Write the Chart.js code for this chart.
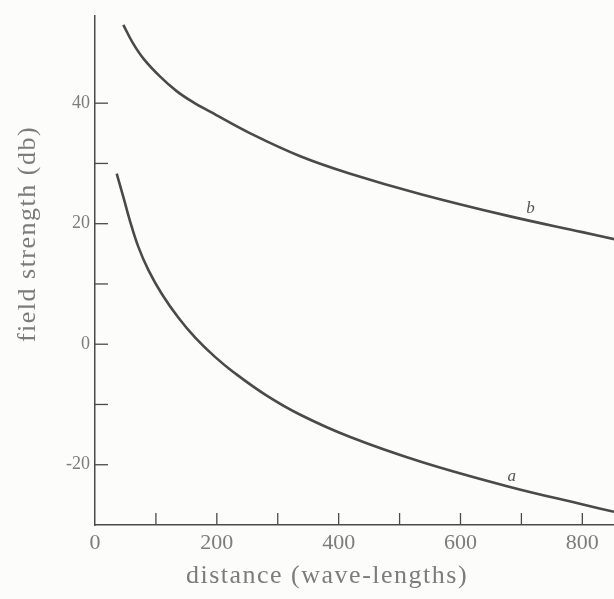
<!DOCTYPE html>
<html>
<head>
<meta charset="utf-8">
<script src="https://cdn.jsdelivr.net/npm/chart.js@4/dist/chart.umd.min.js"></script>
<style>
  html, body { margin: 0; padding: 0; background: #fcfcfa; }
  #wrap { width: 614px; height: 599px; }
</style>
</head>
<body>
<div id="wrap"><canvas id="c"></canvas></div>
<script>
// distance in wave-lengths, field strength in db
const distA  = [35.6, 46.6, 57.6, 71, 87.7, 110, 137, 164.5, 197, 227, 280, 337, 419, 535, 678, 801, 852];
const fieldA = [28.3, 24.4, 20.4, 16.2, 12.3, 8.3, 4.4, 1.1, -2.1, -4.6, -8.4, -11.7, -15.4, -19.5, -23.6, -26.6, -27.8];
const distB  = [46.5, 62, 79.5, 107, 134, 162, 189, 255, 337, 419, 535, 678, 800, 854];
const fieldB = [53.0, 50.0, 47.4, 44.4, 42.0, 40.1, 38.6, 35.0, 31.2, 28.3, 24.9, 21.3, 18.6, 17.4];

const xTicks  = [100, 200, 300, 400, 500, 600, 700, 800];
const xLabels = [0, 200, 400, 600, 800];
const yTicks  = [40, 30, 20, 10, 0, -10, -20];
const yLabels = [40, 20, 0, -20];

const INK = '#4a4a48';
const TEXT = '#7c7c7a';
const SERIF = '"Liberation Serif", "DejaVu Serif", serif';

function pts(xs, ys) { return xs.map((x, i) => ({ x: x, y: ys[i] })); }

const decor = {
  id: 'decor',
  afterDraw(chart) {
    const ctx = chart.ctx, xs = chart.scales.x, ys = chart.scales.y;
    const area = chart.chartArea;
    ctx.save();
    ctx.strokeStyle = INK;
    ctx.lineWidth = 1.3;
    // tick marks point into the plot
    xTicks.forEach(v => {
      const px = xs.getPixelForValue(v);
      ctx.beginPath(); ctx.moveTo(px, area.bottom); ctx.lineTo(px, area.bottom - 12); ctx.stroke();
    });
    yTicks.forEach(v => {
      const py = ys.getPixelForValue(v);
      ctx.beginPath(); ctx.moveTo(area.left, py); ctx.lineTo(area.left + 13, py); ctx.stroke();
    });
    // axis titles
    ctx.fillStyle = TEXT;
    ctx.font = '26px ' + SERIF;
    ctx.letterSpacing = '1.5px';
    ctx.textAlign = 'center';
    ctx.textBaseline = 'middle';
    ctx.fillText('distance (wave-lengths)', 327, 576);
    ctx.translate(28, 234);
    ctx.rotate(-Math.PI / 2);
    ctx.fillText('field strength (db)', 0, 0);
    ctx.restore();
    // curve names
    ctx.save();
    ctx.fillStyle = '#555553';
    ctx.font = 'italic 17px ' + SERIF;
    ctx.textAlign = 'center';
    ctx.textBaseline = 'middle';
    ctx.fillText('b', xs.getPixelForValue(715), ys.getPixelForValue(22.5));
    ctx.fillText('a', xs.getPixelForValue(684), ys.getPixelForValue(-22.0));
    ctx.restore();
  }
};

new Chart(document.getElementById('c'), {
  type: 'scatter',
  data: {
    datasets: [
      { label: 'a', data: pts(distA, fieldA), showLine: true, borderColor: INK, borderWidth: 2.6,
        pointRadius: 0, tension: 0.4 },
      { label: 'b', data: pts(distB, fieldB), showLine: true, borderColor: INK, borderWidth: 2.6,
        pointRadius: 0, tension: 0.4 }
    ]
  },
  options: {
    responsive: true,
    maintainAspectRatio: false,
    animation: false,
    layout: { padding: { top: 12, left: 0, right: 0, bottom: 0 } },
    plugins: { legend: { display: false }, tooltip: { enabled: false } },
    scales: {
      x: {
        type: 'linear', min: 0, max: 852,
        grid: { display: false, drawTicks: false },
        border: { display: true, color: INK, width: 1.5 },
        afterFit: s => { s.height = 74; },
        ticks: {
          stepSize: 100, includeBounds: false, autoSkip: false, maxRotation: 0, padding: 5,
          color: TEXT, font: { family: SERIF, size: 22 },
          callback: v => xLabels.includes(v) ? String(v) : ''
        }
      },
      y: {
        type: 'linear', min: -30, max: 54.5,
        grid: { display: false, drawTicks: false },
        border: { display: true, color: INK, width: 1.5 },
        afterFit: s => { s.width = 95; },
        ticks: {
          stepSize: 10, includeBounds: false, autoSkip: false, padding: 5,
          color: TEXT, font: { family: SERIF, size: 18 },
          callback: v => yLabels.includes(v) ? String(v) : ''
        }
      }
    }
  },
  plugins: [decor]
});
</script>
</body>
</html>
